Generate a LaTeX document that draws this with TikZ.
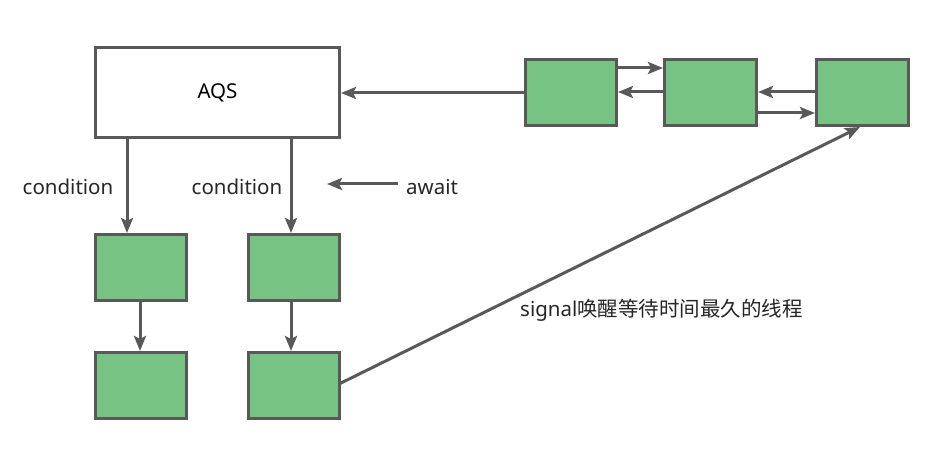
\documentclass[tikz,border=0pt]{standalone}
\usepackage{fontspec}
\setmainfont{Noto Sans}
\newfontfamily\cjk{Noto Sans CJK SC}
\usetikzlibrary{arrows.meta}
\definecolor{lg}{HTML}{595959}
\definecolor{gf}{HTML}{77C384}
\begin{document}
\begin{tikzpicture}[x=1pt,y=-1pt,
  box/.style={draw=lg,line width=3pt,fill=gf,minimum width=91pt,minimum height=66pt,inner sep=0pt,anchor=north west},
  conn/.style={draw=lg,line width=3pt,-{Stealth[length=15pt,width=12pt,inset=3pt]}},
  lbl/.style={font=\fontsize{20.5}{24}\selectfont,text=black!85,inner sep=0pt}]
\useasboundingbox (0,0) rectangle (932,462);
\node[draw=lg,line width=3pt,fill=white,minimum width=244pt,minimum height=90pt,inner sep=0pt,anchor=north west,font=\fontsize{20.5}{24}\selectfont] (aqs) at (94,46) {AQS};
\node[box] (q1) at (524,58) {};
\node[box,minimum width=92pt] (q2) at (663,58) {};
\node[box,minimum width=92pt] (q3) at (815,58) {};
\node[box] (a1) at (94,233) {};
\node[box] (b1) at (247,233) {};
\node[box] (a2) at (94,351) {};
\node[box] (b2) at (247,351) {};
\draw[conn] (q1.west |- 0,93) -- (aqs.east |- 0,93);
\draw[conn] (q1.east |- 0,68) -- (q2.west |- 0,68);
\draw[conn] (q2.west |- 0,92) -- (q1.east |- 0,92);
\draw[conn] (q3.west |- 0,92) -- (q2.east |- 0,92);
\draw[conn] (q2.east |- 0,113) -- (q3.west |- 0,113);
\draw[conn] (aqs.south -| 127,0) -- (a1.north -| 127,0);
\draw[conn] (aqs.south -| 291,0) -- (b1.north -| 291,0);
\draw[conn] (a1.south -| 140,0) -- (a2.north -| 140,0);
\draw[conn] (b1.south -| 291,0) -- (b2.north -| 291,0);
\coordinate (s0) at (339,384);
\coordinate (s1) at (860,127);
\draw[conn] (s0) -- (s1);
\node[lbl] (c1) at (68,187) {condition};
\node[lbl] (c2) at (237,187) {condition};
\node[lbl,anchor=west] (aw) at (406,187) {await};
\coordinate (aw0) at (398,184);
\coordinate (aw1) at (327,184);
\draw[conn] (aw0) -- (aw1);
\node[lbl,anchor=west] (sig) at (520,310) {signal{\cjk 唤醒等待时间最久的线程}};
\end{tikzpicture}
\end{document}
